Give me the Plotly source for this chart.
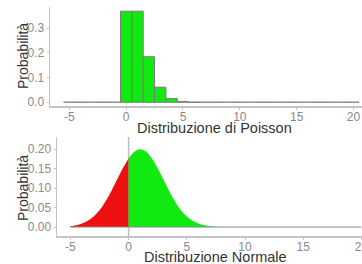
import plotly.graph_objects as go

# ---- data ----
poisson_k = list(range(-5, 21))
poisson_p = [0, 0, 0, 0, 0, 0.368, 0.368, 0.184, 0.061, 0.015, 0.003, 0.0005,
             0, 0, 0, 0, 0, 0, 0, 0, 0, 0, 0, 0, 0, 0]

normal_x = [-5, -4.5, -4, -3.5, -3, -2.5, -2, -1.5, -1, -0.5, 0, 0.5, 1, 1.5, 2, 2.5,
            3, 3.5, 4, 4.5, 5, 5.5, 6, 6.5, 7, 7.5, 8, 8.5, 9, 10, 11, 12, 13, 14,
            15, 16, 17, 18, 19, 20]
normal_y = [0.0022, 0.0045, 0.0088, 0.0159, 0.027, 0.0431, 0.0648, 0.0913, 0.121,
            0.1506, 0.176, 0.193, 0.1995, 0.193, 0.176, 0.1506, 0.121, 0.0913, 0.0648,
            0.0431, 0.027, 0.0159, 0.0088, 0.0045, 0.0022, 0.001, 0.0004, 0.0001, 0,
            0, 0, 0, 0, 0, 0, 0, 0, 0, 0, 0]

x_ticks = [-5, 0, 5, 10, 15, 20]
x_tick_text = ["-5", "0", "5", "10", "15", "20"]
top_y_ticks = [0.0, 0.1, 0.2, 0.3]
bot_y_ticks = [0.0, 0.05, 0.10, 0.15, 0.20]

GREEN = "#10ea10"
RED = "#ee1010"
AX = "#c4c4c4"
TICKC = "#8a8a8a"
TITLEC = "#333333"
W, H = 362, 264

fig = go.Figure()

# Poisson bars
fig.add_trace(go.Bar(x=poisson_k, y=poisson_p, width=1, marker=dict(color=GREEN,
              line=dict(color="#7a7a7a", width=1)), xaxis="x", yaxis="y", showlegend=False))
# zero-height bar outlines
zx, zy = [], []
for k, p in zip(poisson_k, poisson_p):
    if p == 0:
        zx += [k - 0.42, k + 0.42, None]
        zy += [0, 0, None]
fig.add_trace(go.Scatter(x=zx, y=zy, mode="lines", line=dict(color="#9a9a9a", width=1),
                         xaxis="x", yaxis="y", showlegend=False))

# Normal curve
rx = [x for x in normal_x if x <= 0]
ry = [y for x, y in zip(normal_x, normal_y) if x <= 0]
gx = [x for x in normal_x if x >= 0]
gy = [y for x, y in zip(normal_x, normal_y) if x >= 0]
fig.add_trace(go.Scatter(x=rx, y=ry, mode="lines", fill="tozeroy", fillcolor=RED,
                         line=dict(width=0, color=RED, shape="spline"), xaxis="x2", yaxis="y2", showlegend=False))
fig.add_trace(go.Scatter(x=gx, y=gy, mode="lines", fill="tozeroy", fillcolor=GREEN,
                         line=dict(width=0, color=GREEN, shape="spline"), xaxis="x2", yaxis="y2", showlegend=False))
fig.add_trace(go.Scatter(x=[normal_x[0], normal_x[-1]], y=[0, 0], mode="lines",
                         line=dict(color="#8a8a8a", width=1), xaxis="x2", yaxis="y2", showlegend=False))

fig.add_shape(type="line", x0=0, x1=0, y0=0, y1=1, xref="x2", yref="y2 domain",
              line=dict(color="#bdbdbd", width=1.5), layer="below")

common_x = dict(showgrid=False, zeroline=False, showline=True, linecolor=AX, linewidth=1.5,
                ticks="outside", ticklen=2, tickcolor=AX, tickvals=x_ticks, ticktext=x_tick_text,
                automargin=False, ticklabeloverflow="allow", ticklabelstandoff=-3,
                tickfont=dict(size=12, color=TICKC, family="Liberation Sans"))
common_y = dict(showgrid=False, zeroline=False, showline=True, linecolor=AX, linewidth=1.5,
                ticks="outside", ticklen=2, tickcolor=AX, automargin=False,
                tickfont=dict(size=12, color=TICKC, family="Liberation Sans"))

fig.update_layout(
    width=W, height=H, margin=dict(l=0, r=0, t=0, b=0),
    paper_bgcolor="white", plot_bgcolor="white", bargap=0, hovermode=False,
    xaxis=dict(common_x, domain=[50 / W, 1], range=[-6.7, 20.75], anchor="y"),
    yaxis=dict(common_y, domain=[1 - 106 / H, 1 - 7 / H], range=[-0.015, 0.385],
               tickvals=top_y_ticks, tickformat=".1f", anchor="x"),
    xaxis2=dict(common_x, domain=[57 / W, 1], range=[-6.15, 20.05], anchor="y2"),
    yaxis2=dict(common_y, domain=[1 - 236 / H, 1 - 137 / H], range=[-0.023, 0.231],
                tickvals=bot_y_ticks, tickformat=".2f", anchor="x2"),
)

tfont = dict(size=14.5, color=TITLEC, family="Liberation Sans")
fig.add_annotation(text="Distribuzione di Poisson", x=214 / W, y=1 - 128 / H, xref="paper", yref="paper",
                   showarrow=False, font=tfont, xanchor="center", yanchor="middle", borderpad=0)
fig.add_annotation(text="Distribuzione Normale", x=215 / W, y=1 - 256.5 / H, xref="paper", yref="paper",
                   showarrow=False, font=tfont, xanchor="center", yanchor="middle", borderpad=0)
yfont = dict(size=14, color=TITLEC, family="Liberation Sans")
fig.add_annotation(text="Probabilità", x=23 / W, y=1 - 56 / H, xref="paper", yref="paper",
                   showarrow=False, font=yfont, textangle=-90, xanchor="center", yanchor="middle")
fig.add_annotation(text="Probabilità", x=23 / W, y=1 - 188 / H, xref="paper", yref="paper",
                   showarrow=False, font=yfont, textangle=-90, xanchor="center", yanchor="middle")

fig.write_html("out.html", config={"displayModeBar": False, "staticPlot": True},
               post_script="document.body.style.margin='0';document.body.style.overflow='hidden';")
